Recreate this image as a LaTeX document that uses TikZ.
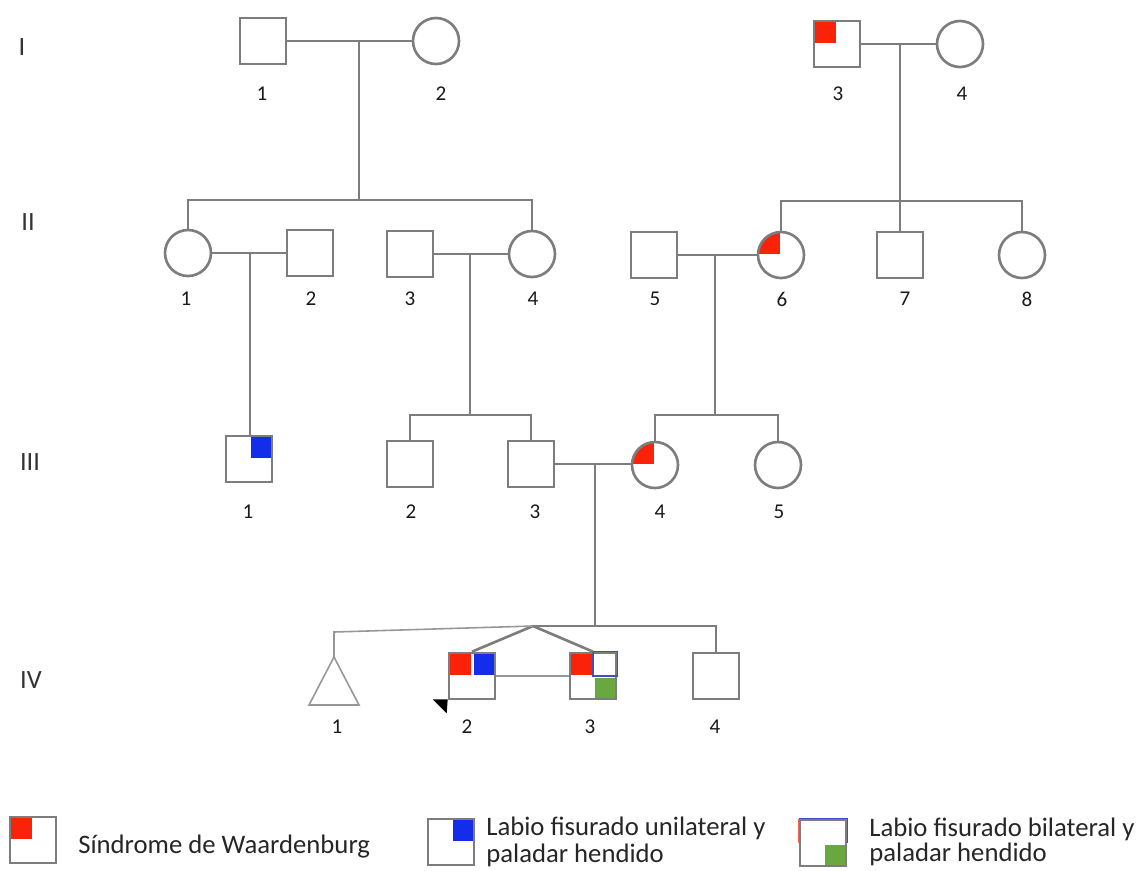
\documentclass[tikz,border=0pt]{standalone}
\usepackage{fontspec}
\setmainfont{Carlito}
\definecolor{wred}{RGB}{250,35,10}
\definecolor{lblue}{RGB}{20,45,235}
\definecolor{pgreen}{RGB}{104,168,62}
\definecolor{pline}{RGB}{125,125,125}

\begin{document}
\begin{tikzpicture}[x=0.02cm,y=-0.02cm,line width=1.5pt,pline,
  male/.style={draw=pline,rectangle,minimum size=0.92cm,inner sep=0pt},
  female/.style={draw=pline,circle,minimum size=0.92cm,inner sep=0pt},
  thinline/.style={line width=0.9pt,pline!80},
  hint/.style={line width=0.6pt},
  num/.style={text=black!90,font=\fontsize{12}{14}\selectfont},
  gen/.style={text=black!80,font=\fontsize{15}{18}\selectfont},
  legtxt/.style={text=black!85,font=\fontsize{15.2}{16}\selectfont,anchor=base west,inner sep=0pt},
  % quarter fills
  wa/.style={path picture={\fill[wred] (path picture bounding box.north west) rectangle ([shift={(-1.5,-1.5)}]path picture bounding box.center);}},
  cu/.style={path picture={\fill[lblue] ([shift={(1.5,0)}]path picture bounding box.north) rectangle ([shift={(0,-1.5)}]path picture bounding box.east);}},
  cb/.style={path picture={\fill[pgreen] ([shift={(1.5,1.5)}]path picture bounding box.center) rectangle (path picture bounding box.south east);}},
  wacu/.style={path picture={\fill[wred] (path picture bounding box.north west) rectangle ([shift={(-1.5,-1.5)}]path picture bounding box.center);
    \fill[lblue] ([shift={(1.5,0)}]path picture bounding box.north) rectangle ([shift={(0,-1.5)}]path picture bounding box.east);}},
  wacb/.style={path picture={\fill[wred] (path picture bounding box.north west) rectangle ([shift={(-1.5,-1.5)}]path picture bounding box.center);
    \fill[pgreen] ([shift={(1.5,1.5)}]path picture bounding box.center) rectangle (path picture bounding box.south east);}}]
\useasboundingbox (0,0) rectangle (1142,870);

% generation I
\node[male] (I1) at (263,41) {};
\node[female] (I2) at (436,41) {};
\node[male,wa] (I3) at (837,44) {};
\node[female] (I4) at (960,44) {};
\coordinate (mI12) at (359,41);
\coordinate (sI12) at (359,200);
\coordinate (mI34) at (900,44);
\coordinate (sI34) at (900,201);

% generation II
\node[female] (II1) at (188,253) {};
\node[male] (II2) at (310,253) {};
\node[male] (II3) at (410,254) {};
\node[female] (II4) at (532,254) {};
\node[male] (II5) at (654,255) {};
\node[female,wa] (II6) at (781,255) {};
\node[male] (II7) at (900,255) {};
\node[female] (II8) at (1022,255) {};
\coordinate (mII12) at (250,253);
\coordinate (mII34) at (470,254);
\coordinate (sII34) at (470,415);
\coordinate (mII56) at (715,255);
\coordinate (sII56) at (715,415);

% generation III
\node[male,cu] (III1) at (249,459) {};
\node[male] (III2) at (410,464) {};
\node[male] (III3) at (531,464) {};
\node[female,wa] (III4) at (655,465) {};
\node[female] (III5) at (778,465) {};
\coordinate (mIII34) at (595,464);
\coordinate (tw) at (533,626);

% generation IV
\coordinate (IV1) at (334,657);
\coordinate (bIV1) at (334,632);
\node[male,wacu] (IV2) at (472,676) {};
\node[male,wacb] (IV3) at (593,676) {};
\node[male] (IV4) at (716,676) {};
\draw[hint,lblue!60!gray] (IV3.center) rectangle (IV3.north east);

% lines of descent
\draw (I1) -- (I2);
\draw (mI12) -- (sI12);
\draw (II1.north) |- (sI12) -| (II4.north);
\draw (I3) -- (I4);
\draw (mI34) -- (II7.north);
\draw (II6.north) |- (sI34) -| (II8.north);

\draw (II1) -- (II2);
\draw (mII12) -- (mII12 |- III1.north);
\draw (II3) -- (II4);
\draw (mII34) -- (sII34);
\draw (III2.north) |- (sII34) -| (III3.north);
\draw (II5) -- (II6);
\draw (mII56) -- (sII56);
\draw (III4.north) |- (sII56) -| (III5.north);

\draw (III3.east) -- (III4.west |- III3.east);
\draw (mIII34) -- (mIII34 |- tw);
\draw (tw) -| (IV4.north);
\draw (tw) -- (IV2.north);
\draw (tw) -- (IV3.north);
\draw[thinline] (tw) -- (bIV1) -- (IV1);
\draw[thinline] (IV1) -- ++(-25,48) -- ++(50,0) -- cycle;
\draw[thinline] (IV2) -- (IV3);
\fill[black] ([shift={(-15,-1)}]IV2.south west) -- ([shift={(0,-1)}]IV2.south west) -- ([shift={(-1,13)}]IV2.south west) -- cycle;

% labels
\foreach \x/\y/\t [count=\k] in {262/94/1,441/94/2,838/94/3,962/94/4,
    186/299/1,311/299/2,410/299/3,533/299/4,655/299/5,782/299/6,905/299/7,1027/299/8,
    248/512/1,411/512/2,535/512/3,660/512/4,779/512/5,
    337/727/1,467/727/2,590/727/3,715/727/4}
  \node[num] (lab\k) at (\x,\y) {\t};
\node[gen] (gI) at (22,47) {I};
\node[gen] (gII) at (28,222) {II};
\node[gen] (gIII) at (30,462) {III};
\node[gen] (gIV) at (31,680) {IV};

% legend
\node[male,wa] (leg1) at (33,840) {};
\node[male,cu] (leg2) at (451,842) {};
\node[male,cb] (leg3) at (823,843) {};
\draw[hint,wred!70] (leg3.west) -- (leg3.north west);
\draw[hint,lblue!60!gray] (leg3.north west) -- (leg3.north east) -- (leg3.east);
\node[legtxt] (t1) at (77,853) {Síndrome de Waardenburg};
\node[legtxt] (t2a) at (485,835) {Labio fisurado unilateral y};
\node[legtxt] (t2b) at (485,862) {paladar hendido};
\node[legtxt] (t3a) at (868,836) {Labio fisurado bilateral y};
\node[legtxt] (t3b) at (868,861) {paladar hendido};
\end{tikzpicture}
\end{document}
